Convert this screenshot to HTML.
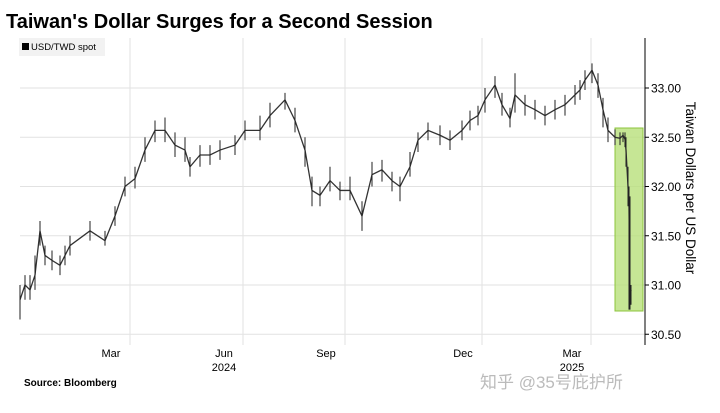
<!DOCTYPE html>
<html><head><meta charset="utf-8"><style>
body{margin:0;background:#fff;width:720px;height:408px;overflow:hidden;font-family:"Liberation Sans",sans-serif}
</style></head><body>
<svg width="720" height="408" xmlns="http://www.w3.org/2000/svg">
<text x="6" y="28" font-size="20" font-weight="bold" fill="#000">Taiwan's Dollar Surges for a Second Session</text>
<g id="grid"></g>
<rect x="615" y="128" width="28" height="183" fill="#b8e07a" fill-opacity="0.8" stroke="#8cc43c" stroke-width="1"/>
<g id="series"></g>
<g id="axes"></g>
<rect x="19" y="38" width="86" height="18" fill="#f2f2f2"/>
<rect x="22" y="43" width="7" height="7" fill="#000"/>
<text x="31" y="50" font-size="9.5" fill="#000">USD/TWD spot</text>
<text x="686" y="188" font-size="13.5" fill="#000" transform="rotate(90 686 188)" text-anchor="middle">Taiwan Dollars per US Dollar</text>
<text x="24" y="386" font-size="10" font-weight="bold" fill="#000">Source: Bloomberg</text>
<text x="480" y="388" font-size="17" fill="#bbb" font-family="'Liberation Sans','Noto Sans CJK SC',sans-serif">知乎 @35号庇护所</text>
</svg>
<script>
const days=[0,5,10,15,20,25,32,40,45,50,70,85,95,105,115,125,135,145,155,165,170,180,190,200,215,225,240,250,265,275,285,292,300,310,320,330,342,352,362,372,380,390,398,408,420,430,442,450,458,465,475,482,490,495,505,515,525,535,545,555,560,565,572,578,583,588,595,600,603,605,606,608,609,610,611];
const closes=[30.85,31.0,30.95,31.1,31.55,31.3,31.25,31.2,31.3,31.4,31.55,31.45,31.7,32.0,32.08,32.37,32.57,32.57,32.42,32.37,32.2,32.32,32.32,32.37,32.42,32.57,32.57,32.72,32.88,32.67,32.37,31.96,31.91,32.06,31.96,31.96,31.7,32.12,32.17,32.06,32.0,32.2,32.47,32.57,32.52,32.47,32.57,32.67,32.72,32.88,33.03,32.83,32.69,32.93,32.83,32.78,32.72,32.78,32.83,32.93,32.98,33.08,33.18,33.03,32.78,32.57,32.5,32.49,32.52,32.48,32.37,32.0,31.8,30.85,30.95];
const highs=[31.0,31.1,31.1,31.3,31.65,31.4,31.35,31.3,31.4,31.5,31.65,31.55,31.8,32.1,32.2,32.5,32.67,32.7,32.55,32.5,32.3,32.42,32.42,32.47,32.52,32.67,32.72,32.85,32.95,32.8,32.5,32.1,32.0,32.2,32.05,32.1,31.85,32.25,32.27,32.15,32.1,32.35,32.55,32.65,32.62,32.57,32.67,32.77,32.82,33.0,33.12,32.95,32.8,33.15,32.93,32.88,32.82,32.88,32.93,33.03,33.08,33.18,33.25,33.15,32.9,32.7,32.58,32.55,32.55,32.55,32.5,32.2,32.0,31.9,31.0];
const lows=[30.65,30.85,30.85,30.95,31.4,31.2,31.15,31.1,31.2,31.3,31.45,31.4,31.6,31.9,31.98,32.25,32.45,32.45,32.3,32.25,32.1,32.2,32.22,32.27,32.32,32.47,32.47,32.6,32.78,32.55,32.2,31.8,31.8,31.95,31.86,31.86,31.55,32.0,32.05,31.95,31.85,32.1,32.35,32.47,32.42,32.37,32.47,32.57,32.62,32.75,32.9,32.72,32.6,32.75,32.72,32.68,32.62,32.68,32.72,32.83,32.88,32.98,33.05,32.9,32.6,32.45,32.42,32.42,32.45,32.4,32.2,31.8,30.75,30.75,30.8];
const yTicks=[33.0,32.5,32.0,31.5,31.0,30.5];
const yTickLabels=["33.00","32.50","32.00","31.50","31.00","30.50"];
const xTickDays=[110,223,325,462,571];
const xTickLabels=["Mar","Jun","Sep","Dec","Mar"];
const yearDays=[223,571];
const yearTexts=["2024","2025"];
const X0=20,Y33=88,PY=98.5;
function xs(d){return X0+d;}
function ys(v){return Y33+(33-v)*PY;}
const NS="http://www.w3.org/2000/svg";
function mk(tag,attrs,parent){const e=document.createElementNS(NS,tag);for(const k in attrs)e.setAttribute(k,attrs[k]);parent.appendChild(e);return e;}
const grid=document.getElementById('grid'),ser=document.getElementById('series'),ax=document.getElementById('axes');
yTicks.forEach((v,i)=>{
 const l=mk('line',{x1:20,x2:645,y1:ys(v),y2:ys(v),stroke:'#e2e2e2','stroke-width':1},grid);
 
 
 const t=mk('line',{x1:645,x2:649,y1:ys(v),y2:ys(v),stroke:'#000'},ax);
 
 
 const tx=mk('text',{x:651,y:ys(v)+4.5,'font-size':12,fill:'#000'},ax);tx.textContent=yTickLabels[i];
 
 
});
xTickDays.forEach((d,i)=>{
 const l=mk('line',{x1:xs(d),x2:xs(d),y1:38,y2:345,stroke:'#e2e2e2'},grid);
 
 
 const tx=mk('text',{x:xs(d)-19,y:357,'font-size':11,fill:'#000','text-anchor':'middle'},ax);tx.textContent=xTickLabels[i];
 
 
});
yearDays.forEach((d,i)=>{
 const tx=mk('text',{x:xs(d)-19,y:371,'font-size':11,fill:'#000','text-anchor':'middle'},ax);tx.textContent=yearTexts[i];
 
 
});
const axl=mk('line',{x1:645,x2:645,y1:38,y2:345,stroke:'#000','stroke-width':1},ax);


const pl=mk('polyline',{points:days.map((d,i)=>xs(d)+','+ys(closes[i])).join(' '),fill:'none',stroke:'#333','stroke-width':1.3},ser);


days.forEach((d,i)=>{
 const b=mk('line',{x1:xs(d),x2:xs(d),y1:ys(highs[i]),y2:ys(lows[i]),stroke:'#222','stroke-width':1},ser);
 
 
});
</script>
</body></html>
